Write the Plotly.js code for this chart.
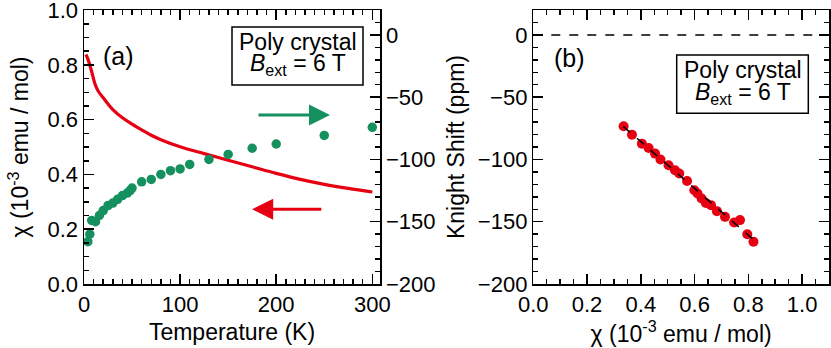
<!DOCTYPE html>
<html>
<head>
<meta charset="utf-8">
<script src="https://cdn.plot.ly/plotly-3.0.1.min.js"></script>
<style>
  html, body { margin: 0; padding: 0; background: #fff; }
  #plot { width: 831px; height: 348px; }
</style>
</head>
<body>
<div id="plot"></div>
<script>
// (a) susceptibility chi(T), left axis
const chiT = [2, 4, 6, 8, 10, 12, 15, 20, 25, 30, 40, 50, 60, 70, 80, 100, 125, 150, 175, 200, 225, 250, 275, 300];
const chiVal = [0.838, 0.822, 0.800, 0.775, 0.748, 0.725, 0.703, 0.680, 0.657, 0.637, 0.607, 0.584, 0.563, 0.543, 0.527, 0.501, 0.476, 0.452, 0.428, 0.404, 0.382, 0.364, 0.349, 0.336];

// (a) Knight shift K(T), right axis
const ksT = [4, 6, 8, 12, 16, 20, 25, 30, 35, 40, 45, 48, 50, 60, 70, 80, 90, 100, 110, 130, 150, 175, 200, 250, 300];
const ksVal = [-166, -160, -149, -150, -145, -141, -137, -135, -132, -129, -127, -125, -123, -118, -116, -112, -109, -107.6, -104, -100, -96, -91, -87.6, -80.7, -74.2];

// (b) K vs chi
const kcChi = [0.336, 0.367, 0.404, 0.429, 0.453, 0.473, 0.503, 0.527, 0.543, 0.572, 0.599, 0.611, 0.626, 0.642, 0.661, 0.683, 0.713, 0.747, 0.769, 0.796, 0.819];
const kcK = [-73.4, -80.1, -87.3, -90.8, -95.3, -100.1, -104.7, -108.7, -111.3, -117.3, -124.7, -127.4, -131.4, -134.9, -136.7, -141.5, -146.1, -150.6, -148.7, -160, -166.1];

// linear fit through (b)
const fitChi = [0.335, 0.825];
const fitK = [-73.5, -165.5];

const RED = '#e60012';
const GREEN = '#15905f';
const FONT = 'Liberation Sans, Arial, Helvetica, sans-serif';

const W = 831, H = 348, MT = 10, MB = 64;
const px = v => v / W;
const py = v => (H - MB - v) / (H - MT - MB);

const minorTicks = d => ({dtick: d, ticks: 'inside', ticklen: 5, tickwidth: 1.5, tickcolor: '#000'});

const axBase = {
  showline: true, linecolor: '#000', linewidth: 1.5,
  ticks: 'inside', ticklen: 10, tickwidth: 1.5, tickcolor: '#000',
  showgrid: false, zeroline: false, ticklabeloverflow: 'allow',
  tickfont: {family: FONT, size: 22, color: '#000'},
  automargin: false
};
// tick-only overlay axes for the top / right frame edges
const mirrorAx = {
  showline: false, showticklabels: false, showgrid: false, zeroline: false,
  ticks: 'inside', ticklen: 10, tickwidth: 1.5, tickcolor: '#000', automargin: false
};

const data = [
  {x: chiT, y: chiVal, xaxis: 'x', yaxis: 'y', type: 'scatter', mode: 'lines',
   line: {color: RED, width: 3.2, shape: 'spline', smoothing: 1}, hoverinfo: 'skip'},
  {x: ksT, y: ksVal, xaxis: 'x', yaxis: 'y2', type: 'scatter', mode: 'markers',
   marker: {color: GREEN, size: 9.5}, hoverinfo: 'skip'},
  {x: kcChi, y: kcK, xaxis: 'x2', yaxis: 'y3', type: 'scatter', mode: 'markers',
   marker: {color: RED, size: 10}, hoverinfo: 'skip'},
  {x: fitChi, y: fitK, xaxis: 'x2', yaxis: 'y3', type: 'scatter', mode: 'lines',
   line: {color: '#000', width: 1.5, dash: 'dash'}, hoverinfo: 'skip'},
  // empty traces so the tick-only frame axes get drawn
  {x: [], y: [], xaxis: 'x3', yaxis: 'y', type: 'scatter', mode: 'markers', hoverinfo: 'skip'},
  {x: [], y: [], xaxis: 'x4', yaxis: 'y4', type: 'scatter', mode: 'markers', hoverinfo: 'skip'}
];

const xaRange = [0, 308], xbRange = [0, 1.1], kRange = [-200, 20];

const layout = {
  width: W, height: H,
  margin: {l: 0, r: 0, t: MT, b: MB},
  paper_bgcolor: '#fff', plot_bgcolor: '#fff',
  showlegend: false,
  font: {family: FONT, color: '#000'},
  xaxis: Object.assign({}, axBase, {
    domain: [px(84), px(380)], range: xaRange, anchor: 'y',
    dtick: 100, tick0: 0, mirror: true, minor: minorTicks(10),
    title: {text: 'Temperature (K)', font: {family: FONT, size: 23}, standoff: 8}
  }),
  xaxis3: Object.assign({}, mirrorAx, {
    domain: [px(84), px(380)], range: xaRange, anchor: 'y', overlaying: 'x', side: 'top',
    dtick: 100, tick0: 0, minor: minorTicks(10)
  }),
  yaxis: Object.assign({}, axBase, {
    domain: [0, 1], range: [0, 1.0005], anchor: 'x',
    dtick: 0.2, tick0: 0, tickformat: '.1f', minor: minorTicks(0.05),
    title: {text: 'χ (10<sup>-3</sup> emu / mol)', font: {family: FONT, size: 23}, standoff: 12}
  }),
  yaxis2: Object.assign({}, axBase, {
    domain: [0, 1], range: kRange, anchor: 'x', overlaying: 'y', side: 'right',
    dtick: 50, tick0: 0, minor: minorTicks(10)
  }),
  xaxis2: Object.assign({}, axBase, {
    domain: [px(533.3), px(829)], range: xbRange, anchor: 'y3',
    dtick: 0.2, tick0: 0, tickformat: '.1f', mirror: true, minor: minorTicks(0.05),
    title: {text: 'χ (10<sup>-3</sup> emu / mol)', font: {family: FONT, size: 23}, standoff: 8}
  }),
  xaxis4: Object.assign({}, mirrorAx, {
    domain: [px(533.3), px(829)], range: xbRange, anchor: 'y4', overlaying: 'x2', side: 'top',
    dtick: 0.2, tick0: 0, minor: minorTicks(0.05)
  }),
  yaxis3: Object.assign({}, axBase, {
    domain: [0, 1], range: kRange, anchor: 'x2',
    dtick: 50, tick0: 0, mirror: true, minor: minorTicks(10),
    title: {text: 'Knight Shift (ppm)', font: {family: FONT, size: 23}, standoff: 7}
  }),
  yaxis4: Object.assign({}, mirrorAx, {
    domain: [0, 1], range: kRange, anchor: 'x4', overlaying: 'y3', side: 'right',
    dtick: 50, tick0: 0, minor: minorTicks(10)
  }),
  shapes: [
    {type: 'line', xref: 'x2 domain', yref: 'y3', x0: 0, x1: 1, y0: 0, y1: 0,
     line: {color: '#000', width: 1.5, dash: 'dash'}},
    {type: 'rect', xref: 'paper', yref: 'paper', x0: px(232), x1: px(363), y0: py(85), y1: py(27),
     line: {color: '#000', width: 1.5}, fillcolor: '#fff'},
    {type: 'rect', xref: 'paper', yref: 'paper', x0: px(676.7), x1: px(808.3), y0: py(113.3), y1: py(55),
     line: {color: '#000', width: 1.5}, fillcolor: '#fff'}
  ],
  annotations: [
    {xref: 'paper', yref: 'paper', x: px(118), y: py(56), text: '(a)', showarrow: false,
     font: {family: FONT, size: 25}, xanchor: 'center', yanchor: 'middle'},
    {xref: 'paper', yref: 'paper', x: px(569), y: py(58), text: '(b)', showarrow: false,
     font: {family: FONT, size: 25}, xanchor: 'center', yanchor: 'middle'},
    {xref: 'paper', yref: 'paper', x: px(297.5), y: py(41.5), text: 'Poly crystal', showarrow: false,
     font: {family: FONT, size: 23}, xanchor: 'center', yanchor: 'middle'},
    {xref: 'paper', yref: 'paper', x: px(297.5), y: py(64.5), text: '<i>B</i><sub>ext</sub> = 6 T', showarrow: false,
     font: {family: FONT, size: 23}, xanchor: 'center', yanchor: 'middle'},
    {xref: 'paper', yref: 'paper', x: px(742.5), y: py(70), text: 'Poly crystal', showarrow: false,
     font: {family: FONT, size: 23}, xanchor: 'center', yanchor: 'middle'},
    {xref: 'paper', yref: 'paper', x: px(742.5), y: py(93), text: '<i>B</i><sub>ext</sub> = 6 T', showarrow: false,
     font: {family: FONT, size: 23}, xanchor: 'center', yanchor: 'middle'},
    {xref: 'x', yref: 'y', x: 256, y: 0.617, axref: 'x', ayref: 'y', ax: 180, ay: 0.617,
     text: '', showarrow: true, arrowhead: 2, arrowsize: 1.4, arrowwidth: 3, arrowcolor: GREEN, standoff: 0},
    {xref: 'x', yref: 'y', x: 175, y: 0.273, axref: 'x', ayref: 'y', ax: 248.5, ay: 0.273,
     text: '', showarrow: true, arrowhead: 2, arrowsize: 1.4, arrowwidth: 3, arrowcolor: RED, standoff: 0}
  ]
};

Plotly.newPlot('plot', data, layout, {staticPlot: true, displayModeBar: false});
</script>
</body>
</html>
